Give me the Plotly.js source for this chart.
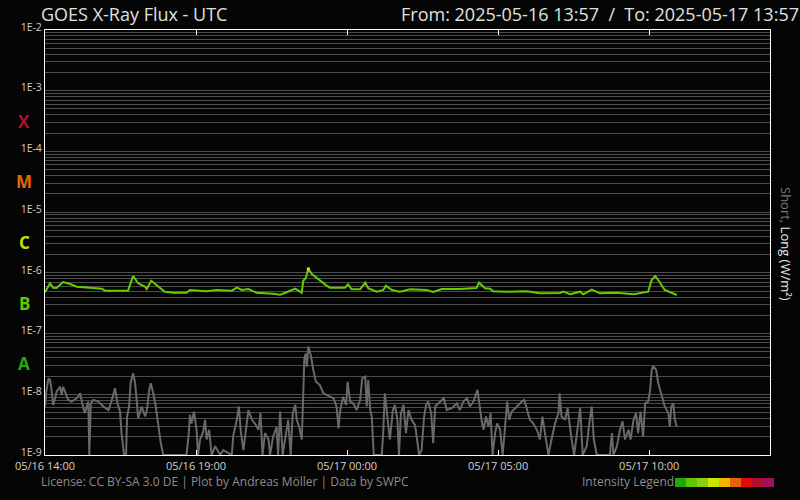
<!DOCTYPE html>
<html>
<head>
<meta charset="utf-8">
<script src="https://cdn.plot.ly/plotly-3.0.1.min.js"></script>
<style>
html,body{margin:0;padding:0;background:#050505;}
#chart{width:800px;height:500px;}
</style>
</head>
<body>
<div id="chart"></div>
<script>
// Start of the time window (UTC) and minutes after it for each reading
const startTime = "2025-05-16 14:00";
const endTime = "2025-05-17 14:00";

// Long channel (0.1-0.8 nm) – minutes after start, flux W/m²
const longMin = [0,10,16,23,36,50,63,89,113,119,165,175,185,199,202,211,222,238,255,281,288,321,341,371,381,391,404,420,453,467,480,497,510,513,518,523,530,546,560,566,586,596,602,609,626,636,642,659,672,677,689,705,725,758,771,788,824,857,862,874,884,890,917,957,983,1023,1029,1043,1063,1069,1086,1102,1136,1169,1198,1205,1212,1218,1231,1255];
const longFlux = [4.79e-7,6.73e-7,5.70e-7,5.63e-7,7.07e-7,6.55e-7,5.91e-7,5.63e-7,5.49e-7,5.09e-7,5.09e-7,8.87e-7,6.73e-7,5.91e-7,5.42e-7,7.43e-7,6.31e-7,4.90e-7,4.71e-7,4.71e-7,5.22e-7,4.97e-7,5.22e-7,5.09e-7,5.70e-7,5.22e-7,5.42e-7,4.71e-7,4.54e-7,4.37e-7,4.79e-7,5.49e-7,4.71e-7,7.43e-7,8.22e-7,1.16e-6,9.57e-7,7.43e-7,6.10e-7,5.70e-7,5.70e-7,5.70e-7,6.48e-7,5.36e-7,5.36e-7,6.89e-7,5.57e-7,4.90e-7,5.22e-7,6.14e-7,5.22e-7,4.90e-7,5.36e-7,5.22e-7,4.84e-7,5.42e-7,5.42e-7,5.63e-7,6.89e-7,5.57e-7,5.49e-7,4.97e-7,4.90e-7,4.97e-7,4.60e-7,4.66e-7,4.90e-7,4.44e-7,4.90e-7,4.44e-7,5.28e-7,4.60e-7,4.71e-7,4.44e-7,4.90e-7,7.62e-7,8.87e-7,7.62e-7,5.22e-7,4.32e-7];

// Short channel (0.05-0.4 nm) – minutes after start, flux W/m²
const shortMin = [0,3,7,10,13,16,20,23,30,33,36,43,46,53,63,70,73,79,86,88,91,96,106,116,126,132,139,144,149,152,157,161,163,167,170,175,179,182,185,192,199,203,207,210,215,220,225,230,235,281,285,288,291,296,301,304,308,314,318,321,326,331,338,348,354,371,374,381,385,389,394,401,404,411,417,424,428,432,437,444,447,453,460,463,467,472,477,483,488,492,497,500,505,510,513,515,518,520,523,528,533,538,546,553,560,566,573,579,583,586,592,598,601,606,612,619,626,630,636,639,642,646,649,653,669,672,675,680,685,691,695,700,703,707,712,717,722,728,735,739,743,748,753,757,761,767,771,775,781,788,792,798,808,818,824,831,838,844,851,859,863,867,871,876,881,885,889,894,898,904,909,914,918,922,927,934,940,947,952,957,963,970,977,983,988,995,1000,1006,1013,1020,1022,1026,1033,1038,1043,1046,1051,1056,1063,1068,1076,1081,1086,1090,1096,1122,1126,1129,1136,1142,1147,1152,1159,1163,1169,1174,1178,1183,1188,1192,1198,1202,1205,1208,1214,1218,1225,1231,1238,1241,1244,1248,1251,1255];
const shortFlux = [6.3e-9,1.18e-8,1.83e-8,1.72e-8,1.18e-8,6.7e-9,8.6e-9,1.10e-8,1.33e-8,9.7e-9,1.33e-8,9.7e-9,8.1e-9,7.6e-9,8.6e-9,1.04e-8,7.6e-9,4.9e-9,7.6e-9,1e-9,7.1e-9,8.1e-9,7.6e-9,6.3e-9,5.5e-9,7.6e-9,1.26e-8,7.1e-9,5.2e-9,2.3e-9,1e-9,1e-9,4.3e-9,6.3e-9,1.52e-8,2.22e-8,1.52e-8,8.1e-9,4.0e-9,6.3e-9,4.3e-9,5.9e-9,1.18e-8,1.52e-8,1.04e-8,6.3e-9,2.9e-9,1.56e-9,1e-9,1e-9,2.0e-9,4.6e-9,3.3e-9,5.2e-9,2.6e-9,1e-9,1.8e-9,2.4e-9,3.8e-9,1.8e-9,2.6e-9,1e-9,1.4e-9,1e-9,1.2e-9,1e-9,2.1e-9,3.8e-9,6.3e-9,2.4e-9,1.2e-9,3.8e-9,5.5e-9,3.8e-9,3.3e-9,2.6e-9,4.9e-9,1e-9,2.3e-9,1.8e-9,1e-9,2.0e-9,2.9e-9,1e-9,5.2e-9,1e-9,1.8e-9,3.8e-9,1e-9,4.9e-9,6.7e-9,3.8e-9,2.9e-9,1.8e-9,1.04e-8,3.9e-8,4.7e-8,2.85e-8,6.1e-8,4.4e-8,2.5e-8,1.61e-8,1.42e-8,1.04e-8,9.7e-9,9.1e-9,8.6e-9,6.3e-9,2.75e-9,5.2e-9,9.1e-9,6.7e-9,1.61e-8,7.6e-9,7.1e-9,5.5e-9,8.1e-9,1.83e-8,1.95e-8,6.3e-9,1.72e-8,5.5e-9,4.3e-9,1e-9,1e-9,2.6e-9,1.04e-8,4.3e-9,1.8e-9,5.5e-9,6.7e-9,3.8e-9,1e-9,4.9e-9,6.7e-9,2.3e-9,5.5e-9,3.8e-9,3.1e-9,1.8e-9,1e-9,1.2e-9,4.3e-9,6.7e-9,7.6e-9,4.9e-9,1.56e-9,6.3e-9,7.1e-9,8.1e-9,8.6e-9,5.5e-9,5.9e-9,7.1e-9,5.5e-9,7.6e-9,8.6e-9,6.3e-9,7.6e-9,1.18e-8,6.3e-9,3.8e-9,2.6e-9,4.3e-9,2.9e-9,4.9e-9,1e-9,2.3e-9,3.3e-9,2.6e-9,1e-9,2.9e-9,7.6e-9,3.8e-9,5.2e-9,5.9e-9,6.7e-9,7.6e-9,8.1e-9,5.5e-9,3.8e-9,3.3e-9,2.6e-9,1.8e-9,4.3e-9,1.8e-9,1e-9,1.8e-9,3.3e-9,4.9e-9,1.04e-8,4.3e-9,3.8e-9,5.9e-9,2.6e-9,1.8e-9,1e-9,2.0e-9,5.9e-9,1e-9,1.4e-9,3.3e-9,6.3e-9,1.8e-9,1e-9,1e-9,2.3e-9,1e-9,1.4e-9,2.6e-9,3.6e-9,1.8e-9,2.6e-9,1.8e-9,3.8e-9,4.9e-9,2.3e-9,5.2e-9,2.0e-9,7.1e-9,7.6e-9,1.18e-8,2.5e-8,2.9e-8,2.5e-8,1.52e-8,9.7e-9,6.3e-9,4.9e-9,2.9e-9,6.3e-9,7.1e-9,3.8e-9,2.9e-9];

// Flare classes and intensity legend colours
const classNames = ["X","M","C","B","A"];
const classLogMid = [-3.5,-4.5,-5.5,-6.5,-7.5];
const classColors = ["#b0102a","#e8640a","#c8e000","#5ec800","#22a80f"];
const cLevel = 1e-6;
const legendColors = ["#22a80f","#5ec800","#8ccc12","#c8e600","#f0b400","#e8640a","#e00a0a","#b0102a","#a0105e"];

function pad(n){return (n<10?"0":"")+n;}
const base = Date.UTC(2025,4,16,14,0);
function toTime(m){
  const d = new Date(base + m*60000);
  return d.getUTCFullYear()+"-"+pad(d.getUTCMonth()+1)+"-"+pad(d.getUTCDate())+" "+pad(d.getUTCHours())+":"+pad(d.getUTCMinutes());
}

const tickVals=[], tickText=[];
for(let n=-9;n<=-2;n++){
  for(let k=1;k<=9;k++){
    if(n===-2 && k>1) break;
    tickVals.push(k*Math.pow(10,n));
    tickText.push(k===1 ? "1E"+n : "");
  }
}

// C-class part of the long channel (drawn in the C colour)
const cX=[], cY=[];
longFlux.forEach((v,i)=>{ if(v>=cLevel){ cX.push(toTime(longMin[i])); cY.push(v);} });

const font = "'Open Sans', 'DejaVu Sans', sans-serif";
const traces = [
  {x: shortMin.map(toTime), y: shortFlux, type:"scatter", mode:"lines",
   line:{color:"#696969", width:2}, hoverinfo:"skip"},
  {x: longMin.map(toTime), y: longFlux, type:"scatter", mode:"lines",
   line:{color:"#66cc00", width:2}, hoverinfo:"skip"},
  {x: cX, y: cY, type:"scatter", mode:"markers",
   marker:{color:"#ccee00", size:3, symbol:"square", line:{width:0}}, hoverinfo:"skip"}
];

const px = v => (v-45)/725, py = v => (455-v)/425;
const annotations = [
  {text:"GOES X-Ray Flux - UTC", xref:"paper", yref:"paper", x:px(39), y:py(14), xanchor:"left", yanchor:"middle", showarrow:false, font:{family:font, size:18, color:"#e0e0e0"}},
  {text:"From: 2025-05-16 13:57  /  To: 2025-05-17 13:57", xref:"paper", yref:"paper", x:px(801), y:py(14), xanchor:"right", yanchor:"middle", showarrow:false, font:{family:font, size:18, color:"#e0e0e0"}},
  {text:'<span style="color:#7a7a7a">Short, </span><span style="color:#e8e8e8">Long (W/m²)</span>', xref:"paper", yref:"paper", x:px(786), y:py(244), xanchor:"center", yanchor:"middle", textangle:90, showarrow:false, font:{family:font, size:13}},
  {text:"License: CC BY-SA 3.0 DE | Plot by Andreas Möller | Data by SWPC", xref:"paper", yref:"paper", x:px(39), y:py(481), xanchor:"left", yanchor:"middle", showarrow:false, font:{family:font, size:12, color:"#8c8c8c"}},
  {text:"Intensity Legend", xref:"paper", yref:"paper", x:px(676), y:py(481), xanchor:"right", yanchor:"middle", showarrow:false, font:{family:font, size:12, color:"#8c8c8c"}}
];
classNames.forEach((c,i)=>annotations.push({text:"<b>"+c+"</b>", xref:"paper", yref:"y", x:px(24), y:classLogMid[i], xanchor:"center", yanchor:"middle", showarrow:false, font:{family:font, size:17, color:classColors[i]}}));

const shapes = legendColors.map((c,i)=>({type:"rect", xref:"paper", yref:"paper", x0:px(675+11*i), x1:px(686+11*i), y0:py(487), y1:py(478), fillcolor:c, line:{width:0}}));

const layout = {
  width:800, height:500,
  margin:{l:45, r:30, t:30, b:45},
  paper_bgcolor:"#050505", plot_bgcolor:"#050505",
  showlegend:false,
  xaxis:{type:"date", range:[startTime,endTime], tick0:startTime, dtick:5*3600000, tickformat:"%m/%d %H:%M",
    showgrid:false, zeroline:false, showline:true, linecolor:"#ffffff", linewidth:1, mirror:"ticks",
    ticks:"inside", ticklen:5, tickcolor:"#ffffff", tickwidth:1, ticklabelstandoff:1,
    tickfont:{family:font, size:11, color:"#d0d0d0"}},
  yaxis:{type:"log", range:[-9,-2], tickmode:"array", tickvals:tickVals, ticktext:tickText,
    showgrid:true, gridcolor:"#4d4d4d", gridwidth:1, zeroline:false, showline:true, linecolor:"#ffffff", linewidth:1, mirror:true,
    ticks:"", ticklabelshift:-3, tickfont:{family:font, size:10.5, color:"#d0d0d0"}},
  annotations: annotations,
  shapes: shapes
};

Plotly.newPlot("chart", traces, layout, {staticPlot:true, displayModeBar:false});
</script>
</body>
</html>
